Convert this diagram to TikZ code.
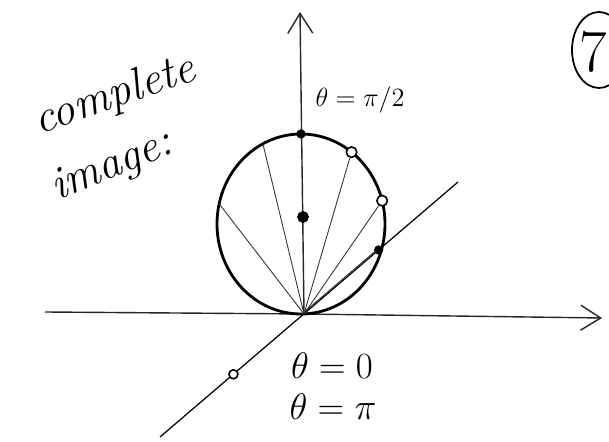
\RequirePackage{fix-cm}
\documentclass[tikz,border=0pt]{standalone}
\usepackage{amsmath}
\usepackage{fontspec}
\usepackage{tikz}
\usetikzlibrary{arrows.meta, calc}

\begin{document}
\begin{tikzpicture}[
  x=1cm, y=1cm,
  axis/.style  = {-{Straight Barb[length=4mm, width=5mm]}, line width=0.8pt, black!85},
  chord/.style = {line width=0.5pt, black!80},
  fdot/.style  = {circle, fill=black, draw=black, inner sep=0pt, minimum size=1.7mm},
  odot/.style  = {circle, fill=white, draw=black, line width=0.9pt, inner sep=0pt, minimum size=2.1mm},
  lab/.style   = {font=\fontsize{21}{25}\selectfont},
  hand/.style  = {font=\fontsize{26}{30}\selectfont\itshape\addfontfeature{LetterSpace=12}},
]

\useasboundingbox (0,0) rectangle (12.18,8.84);

%% ── Axes ────────────────────────────────────────────────────────────────────
\coordinate (O)  at (6.08,2.56);
\coordinate (xl) at (0.90,2.60);
\coordinate (xr) at (12.04,2.48);
\coordinate (yt) at (6.00,8.60);
\draw[axis] (xl) -- (O) -- (xr);
\draw[axis] (O) -- (yt);

%% ── Diagonal line through the origin ────────────────────────────────────────
\coordinate (dl) at (3.20,0.10);
\coordinate (du) at (9.16,5.20);
\draw[line width=0.7pt] (dl) -- (du);

%% ── Circle ──────────────────────────────────────────────────────────────────
\coordinate (c) at (6.02,4.36);
\draw[line width=1.6pt] (c) ellipse [x radius=1.68, y radius=1.80];

\coordinate (e1) at ($(c)+(117:1.68 and 1.80)$);
\coordinate (e2) at ($(c)+(167:1.68 and 1.80)$);
\draw[chord] (O) -- (e1);
\draw[chord] (O) -- (e2);

%% ── Points on the circle ────────────────────────────────────────────────────
\node[fdot] (p1) at ($(c)+(90:1.68 and 1.80)$) {};
\node[odot] (p2) at ($(c)+(53:1.68 and 1.80)$) {};
\node[odot] (p3) at ($(c)+(15:1.68 and 1.80)$) {};
\node[fdot] (p4) at ($(O)!0.485!(du)$) {};
\draw[chord] (O) -- (p2);
\draw[chord] (O) -- (p3);
\draw[chord] ([xshift=-1.2pt]O) -- ([xshift=-1.2pt]p4.center);

\node[fdot, minimum size=2.2mm] (m) at (6.06,4.50) {};
\node[odot, minimum size=1.8mm] (q) at ($(O)!0.49!(dl)$) {};

%% ── Labels ──────────────────────────────────────────────────────────────────
\node[font=\fontsize{15}{18}\selectfont] (t90) at (7.20,6.84) {$\theta=\pi/2$};
\node[lab] (t0)  at (6.64,1.52) {$\theta=0$};
\node[lab] (tpi) at (6.66,0.70) {$\theta=\pi$};

\node[hand, rotate=19] (cw) at (2.30,6.92) {complete};
\node[hand, rotate=22] (iw) at (2.25,5.50) {image:};

%% ── Page number ─────────────────────────────────────────────────────────────
\draw[line width=1pt] (11.98,7.84) ellipse [x radius=0.54, y radius=0.76];
\node[font=\fontsize{34}{40}\selectfont] (seven) at (11.86,7.80) {7};

\end{tikzpicture}
\end{document}
